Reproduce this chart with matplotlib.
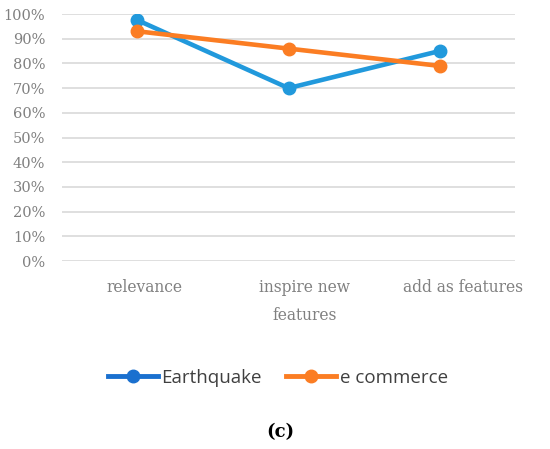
import matplotlib
matplotlib.use("Agg")
import matplotlib.pyplot as plt
from matplotlib.lines import Line2D
from matplotlib.ticker import FuncFormatter
from matplotlib.transforms import ScaledTranslation

categories = ["relevance", "inspire new\nfeatures", "add as features"]
earthquake = [97.5, 70, 85]
ecommerce = [93, 86, 79]
yticks = list(range(0, 101, 10))

line_blue = "#2199dc"
legend_blue = "#1a70cf"
orange = "#fb7d23"
gray = "#808080"

fig = plt.figure(figsize=(5.5, 4.49), dpi=100)
ax = fig.add_axes([0.1127, 0.4187, 0.8237, 0.5501])

x = list(range(len(categories)))
ax.plot(x, earthquake, color=line_blue, lw=3.3, marker="o", ms=9, zorder=3)
ax.plot(x, ecommerce, color=orange, lw=3.3, marker="o", ms=9, zorder=4)

ax.set_xlim(-0.5, len(categories) - 0.5)
ax.set_ylim(0, 100)
ax.set_yticks(yticks)
ax.yaxis.set_major_formatter(FuncFormatter(lambda v, p: f"{int(v)}%"))
ax.set_xticks(x)
ax.set_xticklabels(categories)
ax.grid(axis="y", color="#d9d9d9", lw=1.2)
ax.set_axisbelow(True)
for s in ax.spines.values():
    s.set_visible(False)
ax.tick_params(axis="both", length=0, colors=gray)
ax.tick_params(axis="y", pad=12, labelsize=10.5)
ax.tick_params(axis="x", pad=13, labelsize=11.2)
for lbl in ax.get_xticklabels() + ax.get_yticklabels():
    lbl.set_family("DejaVu Serif")
    lbl.set_color(gray)
for lbl in ax.get_xticklabels():
    lbl.set_linespacing(1.85)

# label shifts seen in the reference (pixels to the right)
shifts_px = [7, 16, 23]
for lbl, s in zip(ax.get_xticklabels(), shifts_px):
    lbl.set_transform(lbl.get_transform() + ScaledTranslation(s / 100, 0, fig.dpi_scale_trans))

handles = [
    Line2D([], [], color=legend_blue, lw=3.5, marker="o", ms=9),
    Line2D([], [], color=orange, lw=3.5, marker="o", ms=9),
]
fig.legend(handles, ["Earthquake", "e commerce"], loc="center",
           bbox_to_anchor=(0.505, 1 - 378 / 449), ncol=2, frameon=False,
           handlelength=2.65, handletextpad=0.2, columnspacing=1.3,
           prop={"family": "Open Sans", "size": 13.5}, labelcolor="#404040")

fig.text(0.51, 1 - 432 / 449, "(c)", ha="center", va="center",
         family="DejaVu Serif", weight="bold", fontsize=13, color="#000000")

fig.savefig("out.png", dpi=100)
